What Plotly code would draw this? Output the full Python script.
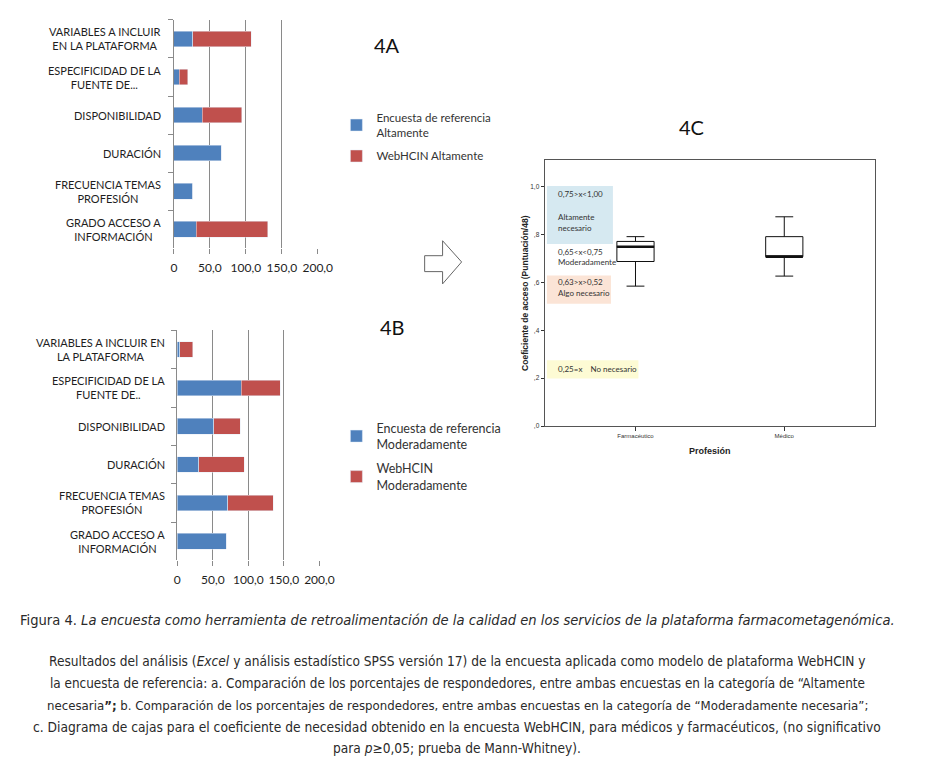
import plotly.graph_objects as go

W, H = 927, 762


def px(x):
    return x / W


def py(y):
    return 1 - y / H


# ---------------- data ----------------
cats_a = ["VARIABLES A INCLUIR<br>EN LA PLATAFORMA", "ESPECIFICIDAD DE LA<br>FUENTE DE...",
          "DISPONIBILIDAD", "DURACIÓN", "FRECUENCIA TEMAS<br>PROFESIÓN", "GRADO ACCESO A<br>INFORMACIÓN"]
ref_alt = [26.0, 7.7, 39.5, 65.9, 25.9, 31.4]
web_alt = [81.7, 11.4, 54.6, 0.0, 0.0, 99.1]

cats_b = ["VARIABLES A INCLUIR EN<br>LA PLATAFORMA", "ESPECIFICIDAD DE LA<br>FUENTE DE..",
          "DISPONIBILIDAD", "DURACIÓN", "FRECUENCIA TEMAS<br>PROFESIÓN", "GRADO ACCESO A<br>INFORMACIÓN"]
ref_mod = [3.2, 89.7, 51.5, 29.9, 71.3, 69.0]
web_mod = [18.4, 55.2, 36.8, 64.4, 63.4, 0.0]

bar_ticks = [0, 50, 100, 150, 200]
bar_ticktext = ["0", "50,0", "100,0", "150,0", "200,0"]

prof = ["Farmacéutico", "Médico"]
prof_pos = [0, 1]
q_low = [0.585, 0.627]
q1 = [0.688, 0.708]
med = [0.750, 0.708]
q3 = [0.772, 0.792]
q_high = [0.792, 0.875]
box_w = 0.25

c_ticks = [0, 0.2, 0.4, 0.6, 0.8, 1.0]
c_ticktext = [",0", ",2", ",4", ",6", ",8", "1,0"]

BLUE = "#4f81bd"
RED = "#c0504d"
GRID = "#8a8a8a"
TXT = "#1e1e1e"
FONT = "Lato"

fig = go.Figure()

# 4A
fig.add_trace(go.Bar(y=cats_a, x=ref_alt, orientation="h", marker_color=BLUE,
                     name="Encuesta de referencia<br>Altamente", xaxis="x", yaxis="y",
                     legend="legend", legendgroup="a1"))
fig.add_trace(go.Bar(y=cats_a, x=web_alt, orientation="h", marker_color=RED,
                     name="WebHCIN Altamente", xaxis="x", yaxis="y", legend="legend",
                     legendgroup="a2"))
# 4B
fig.add_trace(go.Bar(y=cats_b, x=ref_mod, orientation="h", marker_color=BLUE,
                     name="Encuesta de referencia<br>Moderadamente", xaxis="x2", yaxis="y2",
                     legend="legend2", legendgroup="b1"))
fig.add_trace(go.Bar(y=cats_b, x=web_mod, orientation="h", marker_color=RED,
                     name="WebHCIN<br>Moderadamente", xaxis="x2", yaxis="y2",
                     legend="legend2", legendgroup="b2"))
# 4C
fig.add_trace(go.Box(x=prof_pos, q1=q1, median=med, q3=q3, lowerfence=q_low, upperfence=q_high,
                     width=box_w, whiskerwidth=0.48, fillcolor="white",
                     line=dict(color="#111111", width=1), boxpoints=False,
                     xaxis="x3", yaxis="y3", showlegend=False))
mx, my = [], []
for p, m in zip(prof_pos, med):
    mx += [p - box_w / 2, p + box_w / 2, None]
    my += [m, m, None]
fig.add_trace(go.Scatter(x=mx, y=my, mode="lines", line=dict(color="#111111", width=2.6),
                         xaxis="x3", yaxis="y3", showlegend=False, hoverinfo="skip"))


def bar_xaxis(d):
    return dict(domain=d, range=[0, 200], tickvals=bar_ticks, ticktext=bar_ticktext,
                showgrid=True, gridcolor=GRID, gridwidth=1, zeroline=False, showline=False,
                ticks="outside", ticklen=5, tickcolor=GRID, ticklabelstandoff=3,
                tickfont=dict(family=FONT, size=12, color=TXT), fixedrange=True)


def bar_yaxis(d, cats):
    return dict(domain=d, type="category", categoryorder="array", categoryarray=cats,
                autorange="reversed", showticklabels=False, tickson="boundaries",
                ticks="outside", ticklen=5, tickcolor=GRID, showline=True, linecolor=GRID,
                showgrid=False, zeroline=False, fixedrange=True)


fig.update_layout(
    width=W, height=H, margin=dict(l=0, r=0, t=0, b=0),
    paper_bgcolor="white", plot_bgcolor="white",
    barmode="stack", bargap=0.59, showlegend=True,
    font=dict(family=FONT, color=TXT),
    xaxis=dict(**bar_xaxis([px(174.3), px(321)]), anchor="y"),
    yaxis=dict(**bar_yaxis([py(249.3), py(20)], cats_a), anchor="x"),
    xaxis2=dict(**bar_xaxis([px(177.7), px(322.7)]), anchor="y2"),
    yaxis2=dict(**bar_yaxis([py(562.7), py(331.7)], cats_b), anchor="x2"),
    xaxis3=dict(domain=[px(552.3), px(889)], range=[-0.611, 1.608], anchor="y3",
                tickvals=prof_pos, ticktext=prof, ticks="outside", ticklen=4, tickcolor="#333",
                showline=True, mirror=True, linecolor="#555", linewidth=1, showgrid=False,
                zeroline=False, tickfont=dict(family="Liberation Sans", size=6, color="#333"),
                title=dict(text="<b>Profesión</b>", standoff=9,
                           font=dict(family="Liberation Sans", size=9, color="#222")),
                fixedrange=True),
    yaxis3=dict(domain=[py(427.7), py(161)], range=[0, 1.111], anchor="x3",
                tickvals=c_ticks, ticktext=c_ticktext, ticks="outside", ticklen=3,
                tickcolor="#333", showline=True, mirror=True, linecolor="#555", linewidth=1,
                showgrid=False, zeroline=False,
                tickfont=dict(family="Liberation Sans", size=6.5, color="#333"),
                title=dict(text="<b>Coeficiente de acceso (Puntuación/48)</b>", standoff=0,
                           font=dict(family="Liberation Sans", size=8.5, color="#222")),
                fixedrange=True),
    legend=dict(x=px(340), y=py(104), xanchor="left", yanchor="top", traceorder="grouped",
                font=dict(family=FONT, size=11.5, color="#333"), bgcolor="rgba(0,0,0,0)",
                itemwidth=30, tracegroupgap=5),
    legend2=dict(x=px(340), y=py(415), xanchor="left", yanchor="top", traceorder="grouped",
                 font=dict(family=FONT, size=12.5, color="#333"), bgcolor="rgba(0,0,0,0)",
                 itemwidth=30, tracegroupgap=5),
)

ann = []
# category labels (centered lines, block right-aligned next to axis)
for c in cats_a:
    ann.append(dict(x=px(163.5), y=c, xref="paper", yref="y", text=c, showarrow=False,
                    xanchor="right", align="center", font=dict(family=FONT, size=11, color=TXT)))
for c in cats_b:
    ann.append(dict(x=px(167), y=c, xref="paper", yref="y2", text=c, showarrow=False,
                    xanchor="right", align="center", font=dict(family=FONT, size=11, color=TXT)))

# panel labels
for t, x, y in [("4A", 392, 45), ("4B", 397, 328), ("4C", 702, 128)]:
    ann.append(dict(x=px(x), y=py(y), xref="paper", yref="paper", text=t, showarrow=False,
                    xanchor="center", yanchor="middle",
                    font=dict(family=FONT, size=20, color="#111")))

# 4C category notes
notes = [("0,75>x<1,00", 195), ("Altamente", 218), ("necesario", 228.5),
         ("0,65<x<0,75", 252.7), ("Moderadamente", 263.3),
         ("0,63>x>0,52", 283.3), ("Algo necesario", 294),
         ("0,25=x&nbsp;&nbsp;&nbsp;&nbsp;No necesario", 370.7)]
for t, y in notes:
    ann.append(dict(x=px(563.5), y=py(y), xref="paper", yref="paper", text=t, showarrow=False,
                    xanchor="left", yanchor="middle",
                    font=dict(family=FONT, size=8, color="#333")))

# caption
CAP = "DejaVu Sans Condensed, Roboto, sans-serif"
cap_lines = [
    ("Figura 4. <i>La encuesta como herramienta de retroalimentación de la calidad en los servicios de la plataforma farmacometagenómica.</i>", 621.5, 14.6),
    ("Resultados del análisis (<i>Excel</i> y análisis estadístico SPSS versión 17) de la encuesta aplicada como modelo de plataforma WebHCIN y", 664, 13.6),
    ("la encuesta de referencia: a. Comparación de los porcentajes de respondedores, entre ambas encuestas en la categoría de “Altamente", 686.5, 13.4),
    ("necesaria<b>”;</b> b. Comparación de los porcentajes de respondedores, entre ambas encuestas en la categoría de “Moderadamente necesaria”;", 708.5, 13.1),
    ("c. Diagrama de cajas para el coeficiente de necesidad obtenido en la encuesta WebHCIN, para médicos y farmacéuticos, (no significativo", 730, 13.7),
    ("para <i>p</i>≥0,05; prueba de Mann-Whitney).", 750.5, 13.6),
]
for t, y, s in cap_lines:
    ann.append(dict(x=px(463), y=py(y), xref="paper", yref="paper", text=t, showarrow=False,
                    xanchor="center", yanchor="middle",
                    font=dict(family=CAP, size=s, color="#2a2a2a")))

fig.update_layout(annotations=ann)

shapes = [
    dict(type="rect", xref="paper", yref="paper", x0=px(554.7), x1=px(622), y0=py(245),
         y1=py(186.7), fillcolor="#d6e9f1", line=dict(width=0), layer="below"),
    dict(type="rect", xref="paper", yref="paper", x0=px(554.7), x1=px(620), y0=py(305),
         y1=py(276.7), fillcolor="#fbe4d6", line=dict(width=0), layer="below"),
    dict(type="rect", xref="paper", yref="paper", x0=px(554.7), x1=px(648), y0=py(380),
         y1=py(361.7), fillcolor="#fdfbd4", line=dict(width=0), layer="below"),
]
# outline arrow
pts = [(430, 256.7), (448.3, 256.7), (448.3, 241.7), (467.7, 263), (448.3, 285),
       (448.3, 272.7), (430, 272.7)]
path = "M " + " L ".join(f"{px(x):.5f},{py(y):.5f}" for x, y in pts) + " Z"
shapes.append(dict(type="path", xref="paper", yref="paper", path=path,
                   line=dict(color="#666", width=1), fillcolor="white"))
fig.update_layout(shapes=shapes)

fig.write_html("out.html", config={"displayModeBar": False},
               post_script="document.body.style.margin='0px';document.body.style.overflow='hidden';")
